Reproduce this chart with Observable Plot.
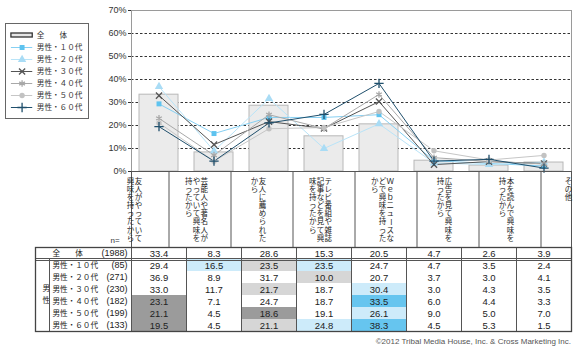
<!DOCTYPE html>
<html><head><meta charset="utf-8">
<script src="https://cdn.jsdelivr.net/npm/d3@7"></script>
<script src="https://cdn.jsdelivr.net/npm/@observablehq/plot@0.6"></script>
<style>
html,body{margin:0;padding:0;background:#fff;}
#wrap{position:relative;width:580px;height:351px;overflow:hidden;font-family:"Liberation Sans","Noto Sans CJK JP",sans-serif;color:#222;}
#wrap svg{position:absolute;overflow:visible;}
#legend{position:absolute;left:5px;top:23px;width:84px;height:96px;border:1px solid #666;box-sizing:border-box;background:#fff;}
#foot{position:absolute;right:9px;top:337px;font-size:8px;color:#555;font-family:"Liberation Sans",Arial,sans-serif;}
</style></head>
<body><div id="wrap"></div>
<script>
// ---- data ----
const categories = ["友人がやっていて興味を持ったから","芸能人や著名人がやっていて興味を持ったから","友人に薦められたから","テレビ番組や雑誌記事などを見て興味を持ったから","Webニュースなどで興味を持ったから","広告を見て興味を持ったから","本を読んで興味を持ったから","その他"];
const categoryLines = [["友人がやっていて","興味を持ったから"],["芸能人や著名人が","やっていて興味を","持ったから"],["友人に薦められた","から"],["テレビ番組や雑誌","記事などを見て興","味を持ったから"],["Ｗｅｂニュースな","どで興味を持った","から"],["広告を見て興味を","持ったから"],["本を読んで興味を","持ったから"],["その他"]];
const totalName = "全　　体";
const seriesNames = ["男性・１０代","男性・２０代","男性・３０代","男性・４０代","男性・５０代","男性・６０代"];
const groupName = "男性";
const sampleSizes = [1988, 85, 271, 230, 182, 199, 133];
const total  = [33.4, 8.3, 28.6, 15.3, 20.5, 4.7, 2.6, 3.9];
const male10 = [29.4, 16.5, 23.5, 23.5, 24.7, 4.7, 3.5, 2.4];
const male20 = [36.9, 8.9, 31.7, 10.0, 20.7, 3.7, 3.0, 4.1];
const male30 = [33.0, 11.7, 21.7, 18.7, 30.4, 3.0, 4.3, 3.5];
const male40 = [23.1, 7.1, 24.7, 18.7, 33.5, 6.0, 4.4, 3.3];
const male50 = [21.1, 4.5, 18.6, 19.1, 26.1, 9.0, 5.0, 7.0];
const male60 = [19.5, 4.5, 21.1, 24.8, 38.3, 4.5, 5.3, 1.5];
const yTicks = [0, 10, 20, 30, 40, 50, 60, 70];
const gridLines = [10, 20, 30, 40, 50, 60];
const footer = "©2012 Tribal Media House, Inc. & Cross Marketing Inc.";

// ---- styles ----
const seriesValues = [male10, male20, male30, male40, male50, male60];
const styles = [
  {line:"#86d0f3", fill:"#5ec3ef", symbol:"square", r:2.8},
  {line:"#b9e4f8", fill:"#a9dcf5", symbol:"triangle", r:3.1},
  {line:"#555555", stroke:"#555555", symbol:"times", r:2.9},
  {line:"#a8a8a8", stroke:"#a8a8a8", symbol:"asterisk", r:3.1},
  {line:"#c6c6c6", fill:"#c2c2c2", symbol:"circle", r:2.7},
  {line:"#1f4f6c", stroke:"#1f4f6c", symbol:"plus", r:3.1}
];
const W = 580, ML = 131, MR = 9;
const wrap = document.getElementById("wrap");
const vals = arr => arr.map((v, i) => ({cat: categories[i], v}));
const sansFont = '"Liberation Sans", Arial, sans-serif';
const jpFont = '"Noto Sans CJK JP", sans-serif';

function dotMark(data, st, opts) {
  const o = Object.assign({symbol: st.symbol, r: st.r}, opts);
  if (st.fill) { o.fill = st.fill; o.stroke = "none"; }
  else { o.stroke = st.stroke; o.fill = "none"; o.strokeWidth = 1.3; }
  return Plot.dot(data, o);
}

// ---- main chart ----
const seriesMarks = [];
seriesValues.forEach((arr, k) => {
  seriesMarks.push(Plot.line(vals(arr), {x: "cat", y: "v", stroke: styles[k].line, strokeWidth: 1}));
});
seriesValues.forEach((arr, k) => {
  seriesMarks.push(dotMark(vals(arr), styles[k], {x: "cat", y: "v"}));
});
const chart = Plot.plot({
  width: W, height: 180, marginLeft: ML, marginRight: MR, marginTop: 10, marginBottom: 9,
  style: {fontFamily: sansFont, color: "#333", background: "transparent", overflow: "visible"},
  x: {domain: categories, paddingInner: 0.3, paddingOuter: 0.15, axis: null},
  y: {domain: [0, 70], axis: null, label: null},
  marks: [
    Plot.ruleY(gridLines, {stroke: "#333", strokeDasharray: "2.5,2", strokeWidth: 1}),
    Plot.barY(vals(total), {x: "cat", y: "v", fill: "#ebebeb", stroke: "#b8b8b8"}),
    Plot.frame({stroke: "#9a9a9a"}),
    Plot.axisY({ticks: yTicks, tickFormat: d => d + "%", tickSize: 3, tickPadding: 2, fontSize: 9, label: null}),
    ...seriesMarks
  ]
});
chart.style.left = "0px"; chart.style.top = "0px";
wrap.appendChild(chart);

// ---- category label area (vertical text: one character per position) ----
const labelChars = [];
categoryLines.forEach((lines, i) => lines.forEach((ln, j) => Array.from(ln).forEach((ch, k) => {
  labelChars.push({cat: categories[i], ch, k, off: (lines.length - 1) / 2 - j});
})));
const offsets = Array.from(new Set(labelChars.map(d => d.off)));
const labelMarks = offsets.map(o => Plot.text(labelChars.filter(d => d.off === o), {
  x: "cat", y: "k", text: "ch", dx: o * 7.8,
  rotate: d => (d.ch === "ー" ? 90 : 0),
  fontSize: 7.5, fontFamily: jpFont, fill: "#222"
}));
const labelArea = Plot.plot({
  width: W, height: 77, marginLeft: ML, marginRight: MR, marginTop: 0, marginBottom: 1,
  style: {fontFamily: sansFont, color: "#222", background: "transparent", overflow: "visible"},
  x: {domain: categories, padding: 0, axis: null},
  y: {domain: [0, 7], range: [10, 10 + 7 * 8.1], axis: null},
  marks: [
    Plot.ruleX(categories.slice(1), {x: d => d, dx: -27.5, stroke: "#555"}),
    Plot.frame({stroke: "#555"}),
    ...labelMarks,
    Plot.text(["n="], {frameAnchor: "bottom-left", dx: -21, dy: -5, textAnchor: "start", fontSize: 8, fill: "#333"})
  ]
});
labelArea.style.left = "0px"; labelArea.style.top = "171px";
wrap.appendChild(labelArea);

// ---- table ----
const rowNames = [totalName, ...seriesNames];
const rowValues = [total, ...seriesValues];
const cells = [];
rowValues.forEach((arr, r) => arr.forEach((v, i) => {
  cells.push({row: rowNames[r], cat: categories[i], v, base: total[i], r});
}));
function cellFill(d) {
  if (d.r === 0) return "#ffffff";
  const diff = d.v - d.base;
  if (diff >= 10) return "#66c5ef";
  if (diff >= 5) return "#cdebfa";
  if (diff <= -10) return "#9b9b9b";
  if (diff <= -5) return "#d6d6d6";
  return "#ffffff";
}
const rowInfo = rowNames.map((n, i) => ({row: n, name: n, n: "(" + sampleSizes[i] + ")"}));
const groupChars = Array.from(groupName).map((ch, k) => ({ch, k}));
const table = Plot.plot({
  width: W, height: 86, marginLeft: 35, marginRight: MR, marginTop: 1, marginBottom: 1,
  style: {fontFamily: sansFont, color: "#222", background: "transparent", overflow: "visible"},
  x: {domain: categories, range: [ML, W - MR], padding: 0, axis: null},
  y: {domain: rowNames, padding: 0, axis: null},
  marks: [
    Plot.cell(cells, {x: "cat", y: "row", fill: d => cellFill(d), inset: 0}),
    Plot.text(cells, {x: "cat", y: "row", text: d => d.v.toFixed(1), fontSize: 9.5, fill: "#222"}),
    Plot.text(rowInfo, {y: "row", text: "name", frameAnchor: "left", dx: 17, textAnchor: "start", fontSize: 7.6, fontFamily: jpFont, fill: "#222"}),
    Plot.text(rowInfo, {y: "row", text: "n", frameAnchor: "left", dx: 92, textAnchor: "end", fontSize: 9, fill: "#222"}),
    Plot.text(groupChars.slice(0, 1), {y: () => seriesNames[2], text: "ch", dy: -1, frameAnchor: "left", dx: 7, fontSize: 7.6, fontFamily: jpFont, fill: "#222"}),
    Plot.text(groupChars.slice(1, 2), {y: () => seriesNames[3], text: "ch", dy: -1, frameAnchor: "left", dx: 7, fontSize: 7.6, fontFamily: jpFont, fill: "#222"}),
    Plot.ruleX(categories, {x: d => d, dx: -27.5, stroke: "#555"}),
    Plot.tickX(seriesNames, {x: () => categories[0], y: d => d, dx: 49 - 158.5, stroke: "#555"}),
    Plot.ruleY([seriesNames[0]], {y: d => d, dy: -7, stroke: "#555"}),
    Plot.ruleY([seriesNames[0]], {y: d => d, dy: -5, stroke: "#555"}),
    Plot.frame({stroke: "#444", strokeWidth: 1.3})
  ]
});
table.style.left = "0px"; table.style.top = "246px";
wrap.appendChild(table);

// ---- legend ----
const legendBox = document.createElement("div");
legendBox.id = "legend";
wrap.appendChild(legendBox);
const legendMarks = [
  Plot.barX([totalName], {y: d => d, x1: 0.06, x2: 0.32, fill: "#e6e6e6", stroke: "#333", strokeWidth: 1.3, insetTop: 4, insetBottom: 4})
];
seriesNames.forEach((n, k) => {
  legendMarks.push(Plot.ruleY([n], {y: d => d, x1: 0.06, x2: 0.32, stroke: styles[k].line, strokeWidth: 1}));
  legendMarks.push(dotMark([n], styles[k], {y: d => d, x: () => 0.19}));
});
legendMarks.push(Plot.text(rowNames, {y: d => d, x: () => 0.37, text: d => d, textAnchor: "start", fontSize: 7.6, fontFamily: jpFont, fill: "#333"}));
const legend = Plot.plot({
  width: 82, height: 94, marginLeft: 0, marginRight: 0, marginTop: 5, marginBottom: 5,
  style: {fontFamily: jpFont, background: "transparent", overflow: "visible"},
  x: {domain: [0, 1], range: [0, 82], axis: null},
  y: {domain: rowNames, padding: 0, axis: null},
  marks: legendMarks
});
legend.style.left = "0px"; legend.style.top = "0px";
legendBox.appendChild(legend);

// ---- footer ----
const f = document.createElement("div");
f.id = "foot";
f.textContent = footer;
wrap.appendChild(f);
</script>
</body></html>
